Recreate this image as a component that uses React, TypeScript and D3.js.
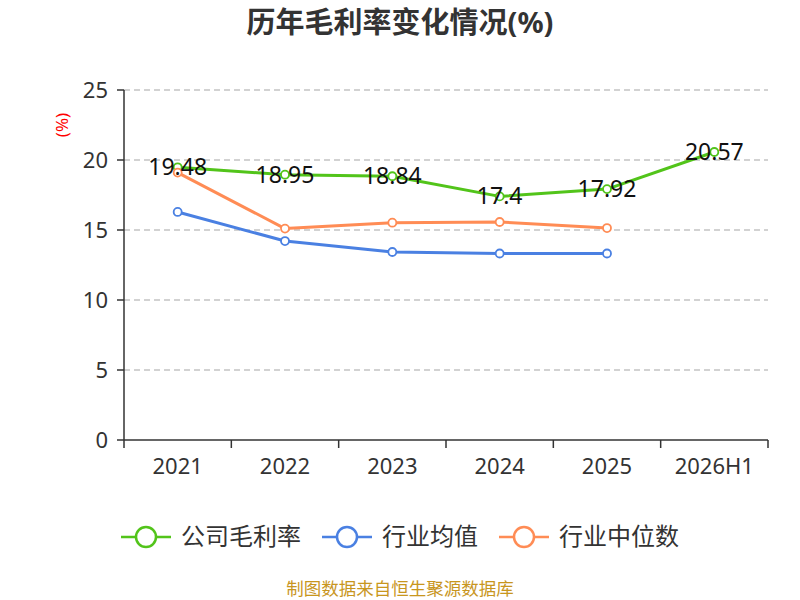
import React from "react";
import * as d3 from "d3";

const years = ["2021", "2022", "2023", "2024", "2025", "2026H1"];
const companyMargin = [19.48, 18.95, 18.84, 17.4, 17.92, 20.57];
const industryAvg = [16.29, 14.21, 13.43, 13.32, 13.32];
const industryMedian = [19.1, 15.1, 15.52, 15.57, 15.14];
const yTicks = [0, 5, 10, 15, 20, 25];

const legendItems = [
    { label: "公司毛利率", color: "#52c41a", x: 121 },
    { label: "行业均值", color: "#4a80e2", x: 322 },
    { label: "行业中位数", color: "#ff8c55", x: 499 },
];

const FONT = "'Noto Sans', 'Noto Sans CJK SC', sans-serif";

export default function App() {
    const width = 800;
    const height = 600;
    const margin = { top: 90, right: 32, bottom: 160, left: 124 };
    const innerW = width - margin.left - margin.right;
    const innerH = height - margin.top - margin.bottom;

    const x = d3.scaleBand<string>().domain(years).range([0, innerW]);
    const y = d3.scaleLinear().domain([0, 25]).range([innerH, 0]);
    const cx = (i: number) => (x(years[i]) ?? 0) + x.bandwidth() / 2;

    const line = d3.line<number>()
        .x((_, i) => cx(i))
        .y(d => y(d));

    const series = [
        { values: companyMargin, color: "#52c41a" },
        { values: industryAvg, color: "#4a80e2" },
        { values: industryMedian, color: "#ff8c55" },
    ];

    return (
        <svg width={width} height={height} fontFamily={FONT}
            style={{ position: "absolute", left: 0, top: 0, display: "block" }}>
            <rect width={width} height={height} fill="#fff" />
            <text x={400} y={33} textAnchor="middle" fontSize={29} fontWeight="bold" fill="#333">
                历年毛利率变化情况(%)
            </text>
            <text transform="translate(68,125) rotate(-90)" textAnchor="middle" fontSize={17} fill="#ff0000">
                (%)
            </text>
            <g transform={`translate(${margin.left},${margin.top})`}>
                {yTicks.map(t => (
                    <g key={t}>
                        {t > 0 && (
                            <line x1={0} x2={innerW} y1={y(t)} y2={y(t)}
                                stroke="#c4c4c4" strokeDasharray="6,4" strokeWidth={1.3} />
                        )}
                        <line x1={-7} x2={0} y1={y(t)} y2={y(t)} stroke="#333" strokeWidth={1.5} />
                        <text x={-16} y={y(t)} dy="0.35em" textAnchor="end" fontSize={22} fill="#333">{t}</text>
                    </g>
                ))}
                <line x1={0} x2={0} y1={0} y2={innerH} stroke="#333" strokeWidth={1.5} />
                <line x1={0} x2={innerW} y1={innerH} y2={innerH} stroke="#333" strokeWidth={1.5} />
                {years.map((yr, i) => (
                    <g key={yr}>
                        <line x1={x(yr) ?? 0} x2={x(yr) ?? 0} y1={innerH} y2={innerH + 8} stroke="#333" strokeWidth={1.5} />
                        <text x={cx(i)} y={innerH + 34} textAnchor="middle" fontSize={22} fill="#333">{yr}</text>
                    </g>
                ))}
                <line x1={innerW} x2={innerW} y1={innerH} y2={innerH + 8} stroke="#333" strokeWidth={1.5} />
                {series.map((s, si) => (
                    <g key={si}>
                        <path d={line(s.values) ?? ""} fill="none" stroke={s.color} strokeWidth={3} strokeLinejoin="round" />
                        {s.values.map((v, i) => (
                            <circle key={i} cx={cx(i)} cy={y(v)} r={4} fill="#fff" stroke={s.color} strokeWidth={1.8} />
                        ))}
                    </g>
                ))}
                {companyMargin.map((v, i) => (
                    <text key={i} x={cx(i)} y={y(v)} dy="0.35em" textAnchor="middle" fontSize={23} fill="#111">
                        {v}
                    </text>
                ))}
            </g>
            {legendItems.map(item => (
                <g key={item.label} transform={`translate(${item.x},537)`}>
                    <line x1={0} x2={50} y1={0} y2={0} stroke={item.color} strokeWidth={2.5} />
                    <circle cx={25} cy={0} r={10} fill="#fff" stroke={item.color} strokeWidth={2.5} />
                    <text x={60} y={0} dy="0.35em" fontSize={24} fill="#333">{item.label}</text>
                </g>
            ))}
            <text x={400} y={595} textAnchor="middle" fontSize={17.5} fill="#c8961e">
                制图数据来自恒生聚源数据库
            </text>
        </svg>
    );
}
